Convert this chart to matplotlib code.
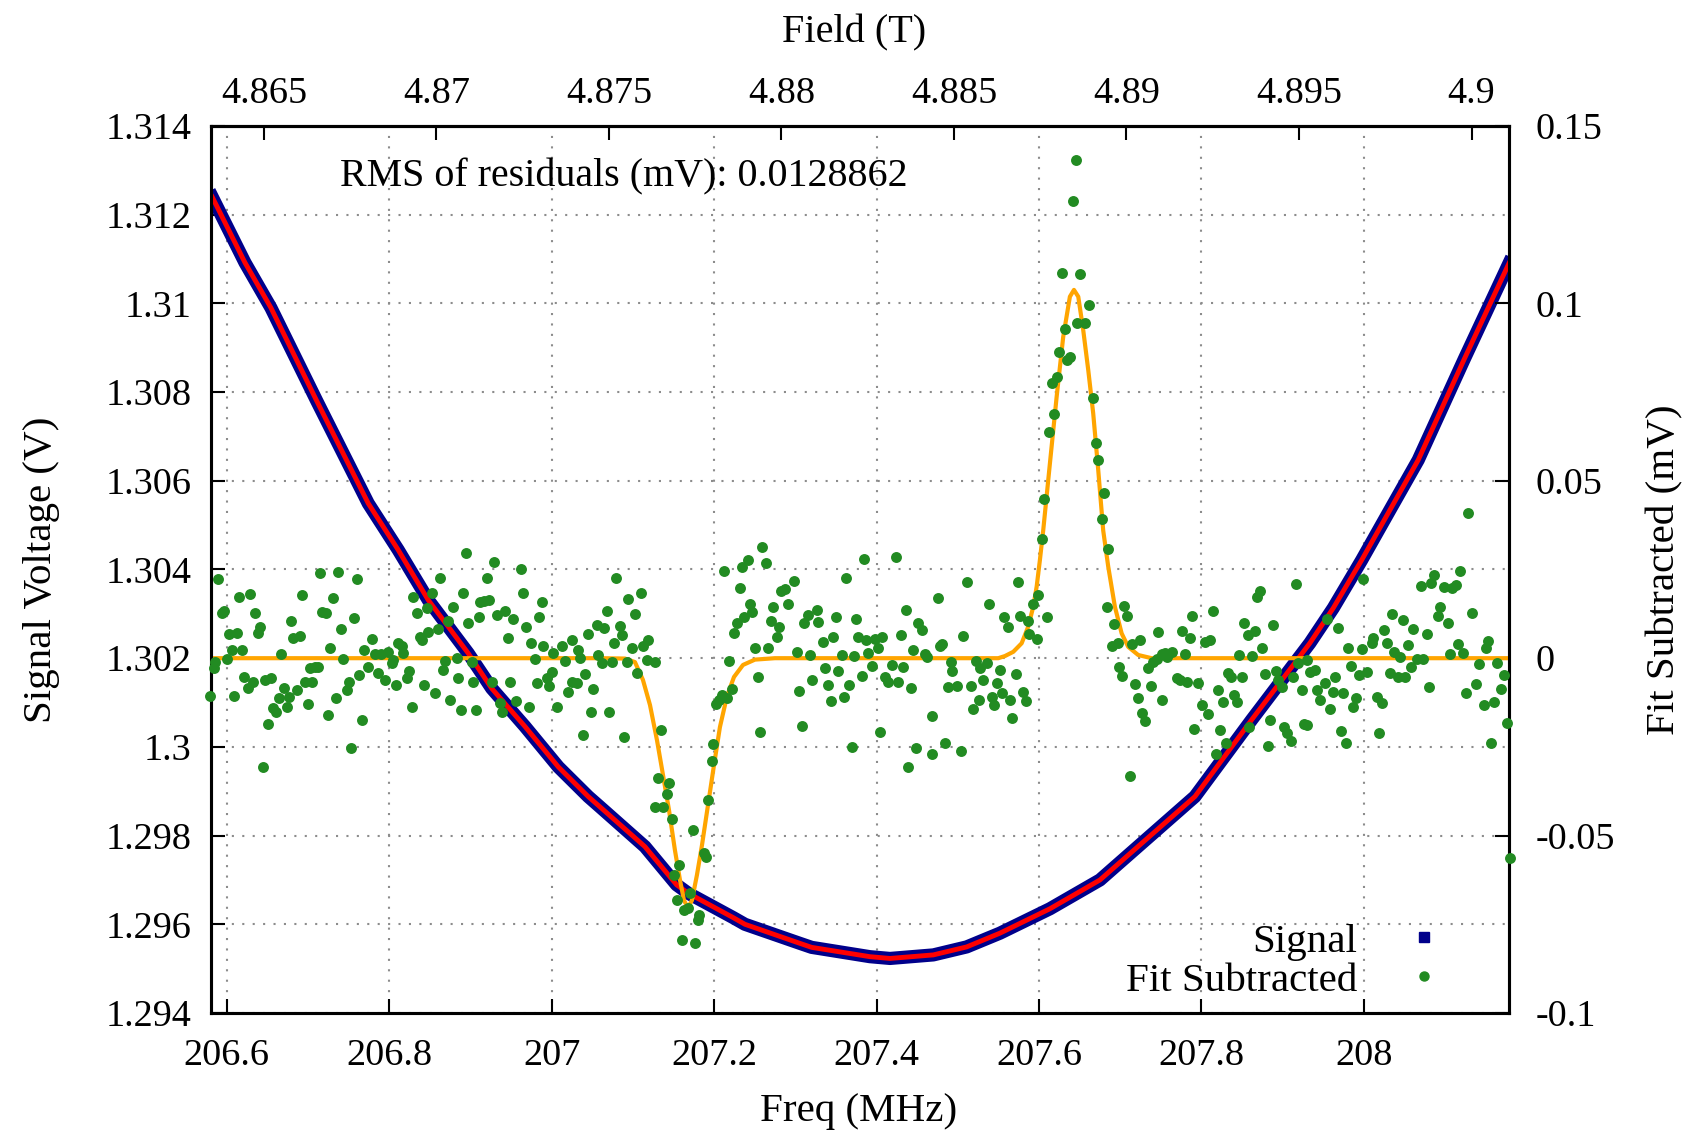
import matplotlib
matplotlib.use("Agg")
import matplotlib.pyplot as plt
from matplotlib.lines import Line2D

plt.rcParams['font.family'] = ['Liberation Serif', 'DejaVu Serif']
plt.rcParams['font.size'] = 27.5

# ---------------- data ----------------
# Signal (V) vs frequency (MHz)
signal_freq = [206.5822, 206.6225, 206.6545, 206.7109, 206.7743, 206.8112, 206.8482, 206.8974,
               206.9262, 206.9672, 207.0082, 207.0451, 207.0594, 207.1149, 207.1539, 207.1682,
               207.2236, 207.2380, 207.3057, 207.3201, 207.3918, 207.4165, 207.4699, 207.5109,
               207.5519, 207.6134, 207.6750, 207.7919, 207.8617, 207.9334, 207.9622, 207.9971,
               208.0319, 208.0668, 208.1236, 208.1784]
signal_volt = [1.31240, 1.31092, 1.30990, 1.30780, 1.30549, 1.30444, 1.30331, 1.30211,
               1.30132, 1.30046, 1.29955, 1.29888, 1.29865, 1.29775, 1.29689, 1.29670,
               1.29615, 1.29600, 1.29557, 1.29548, 1.29527, 1.29523, 1.29531, 1.29549,
               1.29580, 1.29635, 1.29700, 1.29888, 1.30061, 1.30234, 1.30313, 1.30421,
               1.30534, 1.30647, 1.30875, 1.31090]

# fit of the subtracted signal (mV)
resfit_freq = [206.5800, 207.0595, 207.0903, 207.1026, 207.1124, 207.1211, 207.1297, 207.1371,
               207.1445, 207.1518, 207.1580, 207.1629, 207.1678, 207.1728, 207.1789, 207.1851,
               207.1925, 207.1999, 207.2072, 207.2159, 207.2245, 207.2356, 207.2503, 207.2749,
               207.5498, 207.5580, 207.5683, 207.5786, 207.5867, 207.5929, 207.5971, 207.6011,
               207.6052, 207.6134, 207.6217, 207.6298, 207.6380, 207.6430, 207.6483, 207.6544,
               207.6606, 207.6667, 207.6729, 207.6790, 207.6852, 207.6934, 207.7017, 207.7098,
               207.7221, 207.7386, 208.1800]
resfit_val = [0.0, 0.0, -0.0001, -0.0011, -0.0061, -0.0132, -0.0231, -0.0329,
              -0.0428, -0.0541, -0.0625, -0.0682, -0.0704, -0.0682, -0.0611, -0.0527,
              -0.0414, -0.0301, -0.0194, -0.0107, -0.0053, -0.0019, -0.0004, 0.0,
              0.0, 0.0006, 0.0018, 0.0042, 0.0089, 0.0145, 0.0202, 0.0277,
              0.0361, 0.0549, 0.0737, 0.0906, 0.1019, 0.1038, 0.1019, 0.0925,
              0.0812, 0.0690, 0.0530, 0.0360, 0.0258, 0.0145, 0.0070, 0.0032,
              0.0009, 0.0, 0.0]

# fit-subtracted residual points (freq MHz, value mV)
resid_freq = [
    206.5897, 206.5946, 206.5971, 206.6156, 206.6287, 206.6348, 206.6410, 206.6381, 206.6028, 206.6123,
    206.6069, 206.6193, 206.5856, 206.5848, 206.5999, 206.5795, 206.6094, 206.6217, 206.6258, 206.6328,
    206.6472, 206.6545, 206.6513, 206.6574, 206.6603, 206.6644, 206.6710, 206.6738, 206.6767, 206.6669,
    206.6792, 206.6820, 206.6902, 206.6923, 206.6861, 206.6964, 206.6997, 206.7054, 206.7025, 206.7087,
    206.7128, 206.7149, 206.7374, 206.7600, 206.7304, 206.7177, 206.7218, 206.7272, 206.7407, 206.7436,
    206.7567, 206.7251, 206.7341, 206.7477, 206.7506, 206.7629, 206.7661, 206.7530, 206.6451, 206.7694,
    206.7793, 206.7743, 206.7858, 206.7826, 206.7899, 206.7981, 206.7949, 206.8031, 206.8051, 206.8113,
    206.8162, 206.8174, 206.8080, 206.8215, 206.8244, 206.8277, 206.8297, 206.8338, 206.8379, 206.8400,
    206.8433, 206.8462, 206.8474,
    206.8942, 206.9294, 206.9619, 206.8626, 206.9200, 207.0792, 206.8531, 206.8913, 206.9651, 206.8790,
    206.9118, 206.9171, 206.9233, 206.9877, 207.0944, 207.1100, 207.1026, 207.0677, 206.9323, 206.9426,
    206.9106, 206.8974, 206.9528, 206.9844, 206.8720, 206.9680, 206.8605, 206.9459, 206.9746, 206.9898,
    207.0021, 207.0123, 207.0246, 207.0328, 207.0349, 207.0443, 207.0554, 207.0648, 207.0841, 207.0870,
    207.0772, 207.0993, 207.1128, 207.1190, 207.1170, 206.8831, 206.8687, 206.9015, 206.9795, 207.0164,
    207.0575, 207.0616, 207.0739, 207.0923, 206.8667, 206.8851, 206.9036, 206.9262, 206.9487, 206.9816,
    206.9939, 207.0000, 206.9971, 207.0205, 207.0246, 207.0308, 207.0410, 207.0513, 207.1055, 206.8564,
    206.8749, 206.8884, 206.9069, 206.9364, 206.9393, 206.9557, 206.9721, 207.0062, 207.0480, 207.0706,
    207.0390, 207.0895,
    207.1272, 207.1346, 207.1313, 207.1444, 207.1416, 207.1272, 207.1375, 207.1477, 207.1572, 207.1510,
    207.1539, 207.1633, 207.1674, 207.1703, 207.1744, 207.1814, 207.1797, 207.1609, 207.1764, 207.1879,
    207.1896, 207.1929, 207.1970, 207.1990, 207.2019, 207.2060, 207.2101, 207.2154, 207.2224, 207.2183,
    207.2117, 207.2318, 207.2339, 207.2413, 207.2441, 207.2470, 207.2372, 207.2277, 207.2249, 207.2503,
    207.2544, 207.2565, 207.2593, 207.2634, 207.2667, 207.2700, 207.2729, 207.2770, 207.2798, 207.2823,
    207.2872, 207.2913, 207.2987, 207.3016, 207.3045, 207.3077, 207.3110, 207.3159, 207.3180, 207.3209,
    207.3262, 207.3283, 207.3344, 207.3365, 207.3398, 207.3439, 207.3467, 207.3496, 207.3521, 207.3570,
    207.3594, 207.3623, 207.3660, 207.3693, 207.3726, 207.3742, 207.3775, 207.3816, 207.3849, 207.3865,
    207.3890,
    207.4235, 207.5113, 207.5736, 207.4751, 207.4358, 207.5383, 207.4513, 207.4555, 207.5572, 207.5613,
    207.5765, 207.5868, 207.4300, 207.4070, 207.3980, 207.4013, 207.4452, 207.4596, 207.4616, 207.4780,
    207.4809, 207.5067, 207.3947, 207.4185, 207.4329, 207.4103, 207.4136, 207.4267, 207.4423, 207.4916,
    207.4932, 207.4875, 207.4985, 207.5162, 207.5219, 207.5273, 207.5355, 207.5314, 207.5478, 207.5519,
    207.5712, 207.5539, 207.5416, 207.5449, 207.5642, 207.5806, 207.5835, 207.5260, 207.5190, 207.5671,
    207.4678, 207.4042, 207.4481, 207.4678, 207.4842, 207.5039, 207.4390, 207.5876, 207.5970, 207.5929,
    207.5990, 207.6093, 207.6032,
    207.6455, 207.6413, 207.6278, 207.6504, 207.6619, 207.6471, 207.6565, 207.6319, 207.6249, 207.6340,
    207.6381, 207.6217, 207.6155, 207.6184, 207.6668, 207.6122, 207.6701, 207.6721, 207.6799, 207.6061,
    207.6770,
    207.6852, 207.6832, 207.7049, 207.7078, 207.6926, 207.6893, 207.6967, 207.7139, 207.7242, 207.6988,
    207.7016, 207.7336, 207.7406, 207.7447, 207.7509, 207.7468, 207.7550, 207.7591, 207.7640, 207.7571,
    207.7755, 207.7857, 207.7796, 207.7878, 207.8145, 207.8042, 207.8104, 207.7181, 207.7373, 207.7213,
    207.7509, 207.7271, 207.7304, 207.7693, 207.7734, 207.7816, 207.7960, 207.8009, 207.8075, 207.7911,
    207.8198, 207.8268, 207.8227, 207.8297, 207.8173, 207.8329, 207.8362, 207.8403, 207.8432, 207.8494,
    207.8461, 207.8526, 207.8575, 207.8658, 207.8617, 207.8678, 207.8719, 207.8748, 207.8781, 207.8883,
    207.8912, 207.8937, 207.8986, 207.8842, 207.8813, 207.8584, 207.9019, 207.9047, 207.9101, 207.9129,
    207.9191, 207.9294, 207.9158, 207.9232, 207.9265, 207.7119,
    208.1275, 208.1181, 207.9991, 208.0865, 208.0824, 208.0701, 208.0988, 208.1078, 208.1128, 208.0935,
    208.0906, 208.1029, 208.1325, 207.9540, 207.9675, 208.0348, 208.0483, 208.0250, 208.0607, 208.0771,
    208.0114, 208.0094, 208.0278, 208.0537, 207.9798, 207.9971, 208.0373, 208.0442, 208.1058, 208.1152,
    208.1222, 208.1521, 208.1497, 208.0648, 208.0730, 208.0578, 207.9839, 207.9938, 208.0032, 208.0319,
    208.0414, 208.0504, 208.1415, 208.1632, 208.1727, 207.9335, 207.9396, 207.9642, 207.9519, 207.9622,
    207.9745, 207.9417, 207.9458, 207.9581, 207.9897, 207.9868, 208.0155, 208.0217, 208.0799, 208.1251,
    208.1374, 208.1481, 208.1604, 208.1686, 207.9716, 207.9774, 208.0184, 208.1563, 208.1755, 207.9294,
    208.1796,
]
resid_val = [
    0.0222, 0.0128, 0.0133, 0.0173, 0.0180, 0.0128, 0.0089, 0.0070, 0.0068, 0.0072,
    0.0023, 0.0023, -0.0012, -0.0029, -0.0003, -0.0106, -0.0106, -0.0052, -0.0085, -0.0066,
    -0.0061, -0.0057, -0.0185, -0.0141, -0.0151, -0.0113, -0.0083, -0.0138, -0.0108, 0.0011,
    0.0106, 0.0056, 0.0063, 0.0178, -0.0090, -0.0066, -0.0129, -0.0068, -0.0029, -0.0026,
    -0.0024, 0.0241, 0.0244, 0.0224, 0.0171, 0.0131, 0.0127, 0.0029, 0.0083, -0.0002,
    0.0112, -0.0160, -0.0111, -0.0091, -0.0066, -0.0047, -0.0174, -0.0254, -0.0308, 0.0023,
    0.0053, -0.0024, -0.0041, 0.0012, 0.0012, 0.0017, -0.0061, -0.0014, -0.0005, 0.0042,
    0.0033, 0.0014, -0.0076, -0.0057, -0.0035, -0.0138, 0.0172, 0.0128, 0.0061, 0.0051,
    -0.0075, 0.0141, 0.0075,
    0.0296, 0.0272, 0.0251, 0.0225, 0.0225, 0.0227, 0.0185, 0.0185, 0.0185, 0.0143,
    0.0159, 0.0162, 0.0164, 0.0157, 0.0166, 0.0183, 0.0125, 0.0134, 0.0122, 0.0133,
    0.0117, 0.0098, 0.0110, 0.0115, 0.0106, 0.0087, 0.0081, 0.0056, 0.0042, 0.0033,
    0.0014, 0.0035, 0.0050, 0.0023, 0.0000, 0.0067, 0.0094, 0.0084, 0.0091, 0.0066,
    0.0044, 0.0028, 0.0033, 0.0051, -0.0005, 0.0001, -0.0007, -0.0012, -0.0003, -0.0007,
    0.0009, -0.0014, -0.0012, -0.0012, -0.0033, -0.0057, -0.0066, -0.0066, -0.0066, -0.0071,
    -0.0055, -0.0038, -0.0078, -0.0094, -0.0066, -0.0071, -0.0045, -0.0087, -0.0043, -0.0099,
    -0.0118, -0.0146, -0.0146, -0.0127, -0.0153, -0.0122, -0.0138, -0.0137, -0.0152, -0.0151,
    -0.0216, -0.0221,
    -0.0010, -0.0202, -0.0339, -0.0353, -0.0383, -0.0420, -0.0418, -0.0454, -0.0583, -0.0611,
    -0.0681, -0.0710, -0.0705, -0.0663, -0.0484, -0.0724, -0.0738, -0.0794, -0.0804, -0.0550,
    -0.0559, -0.0400, -0.0289, -0.0243, -0.0129, -0.0118, -0.0104, -0.0113, -0.0088, -0.0008,
    0.0246, 0.0197, 0.0258, 0.0277, 0.0153, 0.0131, 0.0117, 0.0100, 0.0070, 0.0028,
    -0.0052, -0.0207, 0.0314, 0.0269, 0.0028, 0.0106, 0.0143, 0.0059, 0.0087, 0.0190,
    0.0194, 0.0153, 0.0218, 0.0018, -0.0092, -0.0190, 0.0098, 0.0122, 0.0009, -0.0061,
    0.0136, 0.0103, 0.0047, -0.0028, -0.0075, -0.0120, 0.0061, 0.0117, -0.0035, 0.0009,
    -0.0110, 0.0225, -0.0075, -0.0251, 0.0007, 0.0111, 0.0059, -0.0050, 0.0279, 0.0051,
    0.0014,
    0.0284, 0.0214, 0.0216, 0.0169, 0.0136, 0.0153, 0.0100, 0.0079, 0.0115, 0.0087,
    0.0119, 0.0106, 0.0066, 0.0061, 0.0053, 0.0028, 0.0023, 0.0012, 0.0004, 0.0033,
    0.0040, 0.0063, -0.0021, -0.0019, -0.0026, -0.0052, -0.0066, -0.0066, -0.0085, -0.0012,
    -0.0035, -0.0082, -0.0077, -0.0078, -0.0007, -0.0028, -0.0014, -0.0061, -0.0071, -0.0033,
    -0.0044, -0.0099, -0.0110, -0.0132, -0.0118, -0.0094, -0.0120, -0.0118, -0.0144, -0.0169,
    -0.0163, -0.0209, -0.0254, -0.0270, -0.0238, -0.0261, -0.0306, 0.0068, 0.0053, 0.0153,
    0.0178, 0.0117, 0.0336,
    0.1404, 0.1289, 0.1087, 0.1082, 0.0995, 0.0946, 0.0946, 0.0927, 0.0864, 0.0840,
    0.0848, 0.0793, 0.0775, 0.0688, 0.0734, 0.0638, 0.0606, 0.0560, 0.0466, 0.0450,
    0.0391,
    0.0307, 0.0145, 0.0147, 0.0119, 0.0096, 0.0035, 0.0042, 0.0040, 0.0051, -0.0024,
    -0.0050, -0.0029, -0.0010, -0.0003, 0.0011, 0.0075, 0.0016, 0.0012, 0.0018, 0.0004,
    0.0078, 0.0058, 0.0012, 0.0119, 0.0133, 0.0047, 0.0050, -0.0073, -0.0077, -0.0113,
    -0.0118, -0.0155, -0.0176, -0.0057, -0.0061, -0.0066, -0.0071, -0.0132, -0.0157, -0.0200,
    -0.0090, -0.0123, -0.0202, -0.0238, -0.0270, -0.0043, -0.0052, -0.0104, -0.0123, -0.0052,
    0.0009, 0.0098, 0.0065, 0.0078, 0.0006, 0.0172, 0.0190, 0.0028, -0.0045, 0.0093,
    -0.0035, -0.0061, -0.0082, -0.0174, -0.0248, -0.0195, -0.0193, -0.0212, -0.0232, -0.0054,
    -0.0014, -0.0005, 0.0208, -0.0091, -0.0185, -0.0332,
    0.0410, 0.0247, 0.0222, 0.0234, 0.0213, 0.0203, 0.0200, 0.0197, 0.0206, 0.0143,
    0.0119, 0.0098, 0.0127, 0.0110, 0.0084, 0.0125, 0.0108, 0.0079, 0.0081, 0.0067,
    0.0056, 0.0042, 0.0042, 0.0037, 0.0030, 0.0025, 0.0018, 0.0004, 0.0012, 0.0040,
    0.0016, 0.0049, 0.0028, -0.0003, -0.0003, -0.0026, -0.0022, -0.0047, -0.0038, -0.0042,
    -0.0054, -0.0054, -0.0016, -0.0014, -0.0047, -0.0038, -0.0033, -0.0052, -0.0069, -0.0094,
    -0.0099, -0.0089, -0.0118, -0.0144, -0.0113, -0.0138, -0.0108, -0.0127, -0.0082, -0.0097,
    -0.0073, -0.0132, -0.0123, -0.0088, -0.0204, -0.0240, -0.0210, -0.0240, -0.0184, -0.0188,
    -0.0564,
]

freq_ticks = [206.6, 206.8, 207.0, 207.2, 207.4, 207.6, 207.8, 208.0]
freq_labels = ["206.6", "206.8", "207", "207.2", "207.4", "207.6", "207.8", "208"]
volt_ticks = [1.294, 1.296, 1.298, 1.300, 1.302, 1.304, 1.306, 1.308, 1.310, 1.312, 1.314]
volt_labels = ["1.294", "1.296", "1.298", "1.3", "1.302", "1.304", "1.306", "1.308", "1.31", "1.312", "1.314"]
res_ticks = [-0.1, -0.05, 0.0, 0.05, 0.1, 0.15]
res_labels = ["-0.1", "-0.05", "0", "0.05", "0.1", "0.15"]
field_ticks = [4.865, 4.870, 4.875, 4.880, 4.885, 4.890, 4.895, 4.900]
field_labels = ["4.865", "4.87", "4.875", "4.88", "4.885", "4.89", "4.895", "4.9"]
mhz_per_tesla = 42.476
rms_text = "RMS of residuals (mV): 0.0128862"

# ---------------- plot ----------------
fig = plt.figure(figsize=(17.01, 11.35), dpi=100)
ax = fig.add_axes([0.12404, 0.10749, 0.76326, 0.78150])

ax.plot(signal_freq, signal_volt, color='#00008b', lw=9.5, zorder=2, solid_joinstyle='round')
ax.plot(signal_freq, signal_volt, color='#ff0000', lw=3.5, zorder=3, solid_joinstyle='round')
ax.set_xlim(206.5807, 208.1789)
ax.set_ylim(1.294, 1.314)
ax.set_xticks(freq_ticks)
ax.set_xticklabels(freq_labels)
ax.set_yticks(volt_ticks)
ax.set_yticklabels(volt_labels)
ax.tick_params(axis='x', direction='in', length=10, width=1.5, top=False, pad=18.5)
ax.tick_params(axis='y', direction='in', length=10, width=1.5, right=False, pad=14)
ax.grid(True, color='#8c8c8c', linestyle=(0, (1, 4)), linewidth=1.5)
for s in ax.spines.values():
    s.set_linewidth(2.2)

ax.set_xlabel('Freq (MHz)', fontsize=29.5)
ax.xaxis.set_label_coords(0.499, -0.1116)
ax.xaxis.label.set_verticalalignment('center')
ax.set_ylabel('Signal Voltage (V)', fontsize=29.5)
ax.yaxis.set_label_coords(-0.1309, 0.5)
ax.yaxis.label.set_verticalalignment('center')

ax.text(0.0994, 0.9316, rms_text, transform=ax.transAxes, ha='left', va='baseline',
        fontsize=28.8)

ax2 = ax.twinx()
ax2.set_ylim(-0.1, 0.15)
ax2.plot(resfit_freq, resfit_val, color='#ffa500', lw=3, zorder=2)
ax2.scatter(resid_freq, resid_val, s=62, color='#228b22', linewidths=0, zorder=3, clip_on=False)
ax2.set_yticks(res_ticks)
ax2.set_yticklabels(res_labels)
ax2.tick_params(axis='y', direction='in', length=10, width=1.5, pad=19)
for s in ax2.spines.values():
    s.set_linewidth(2.2)
ax2.set_ylabel('Fit Subtracted (mV)', rotation=90, fontsize=29.5)
ax2.yaxis.set_label_coords(1.1199, 0.5)
ax2.yaxis.label.set_verticalalignment('center')

secax = ax.secondary_xaxis('top', functions=(lambda f: f / mhz_per_tesla,
                                             lambda b: b * mhz_per_tesla))
secax.set_xticks(field_ticks)
secax.set_xticklabels(field_labels)
secax.tick_params(direction='in', length=10, width=1.5, pad=10.5)
secax.spines['top'].set_linewidth(2.2)
secax.set_xlabel('Field (T)', fontsize=29)
secax.xaxis.set_label_coords(0.4953, 1.1054, transform=ax.transAxes)
secax.xaxis.label.set_verticalalignment('center')

handles = [Line2D([], [], marker='s', color='#00008b', ls='none', markersize=6.5),
           Line2D([], [], marker='o', color='#228b22', ls='none', markersize=6.5)]
ax2.legend(handles, ['Signal', 'Fit Subtracted'], loc='lower right',
           bbox_to_anchor=(0.9655, -0.0081), markerfirst=False, frameon=False,
           borderpad=0, handlelength=1.0, handletextpad=1.11, labelspacing=0.03,
           fontsize=29.5)

fig.savefig('out.png', dpi=100)
